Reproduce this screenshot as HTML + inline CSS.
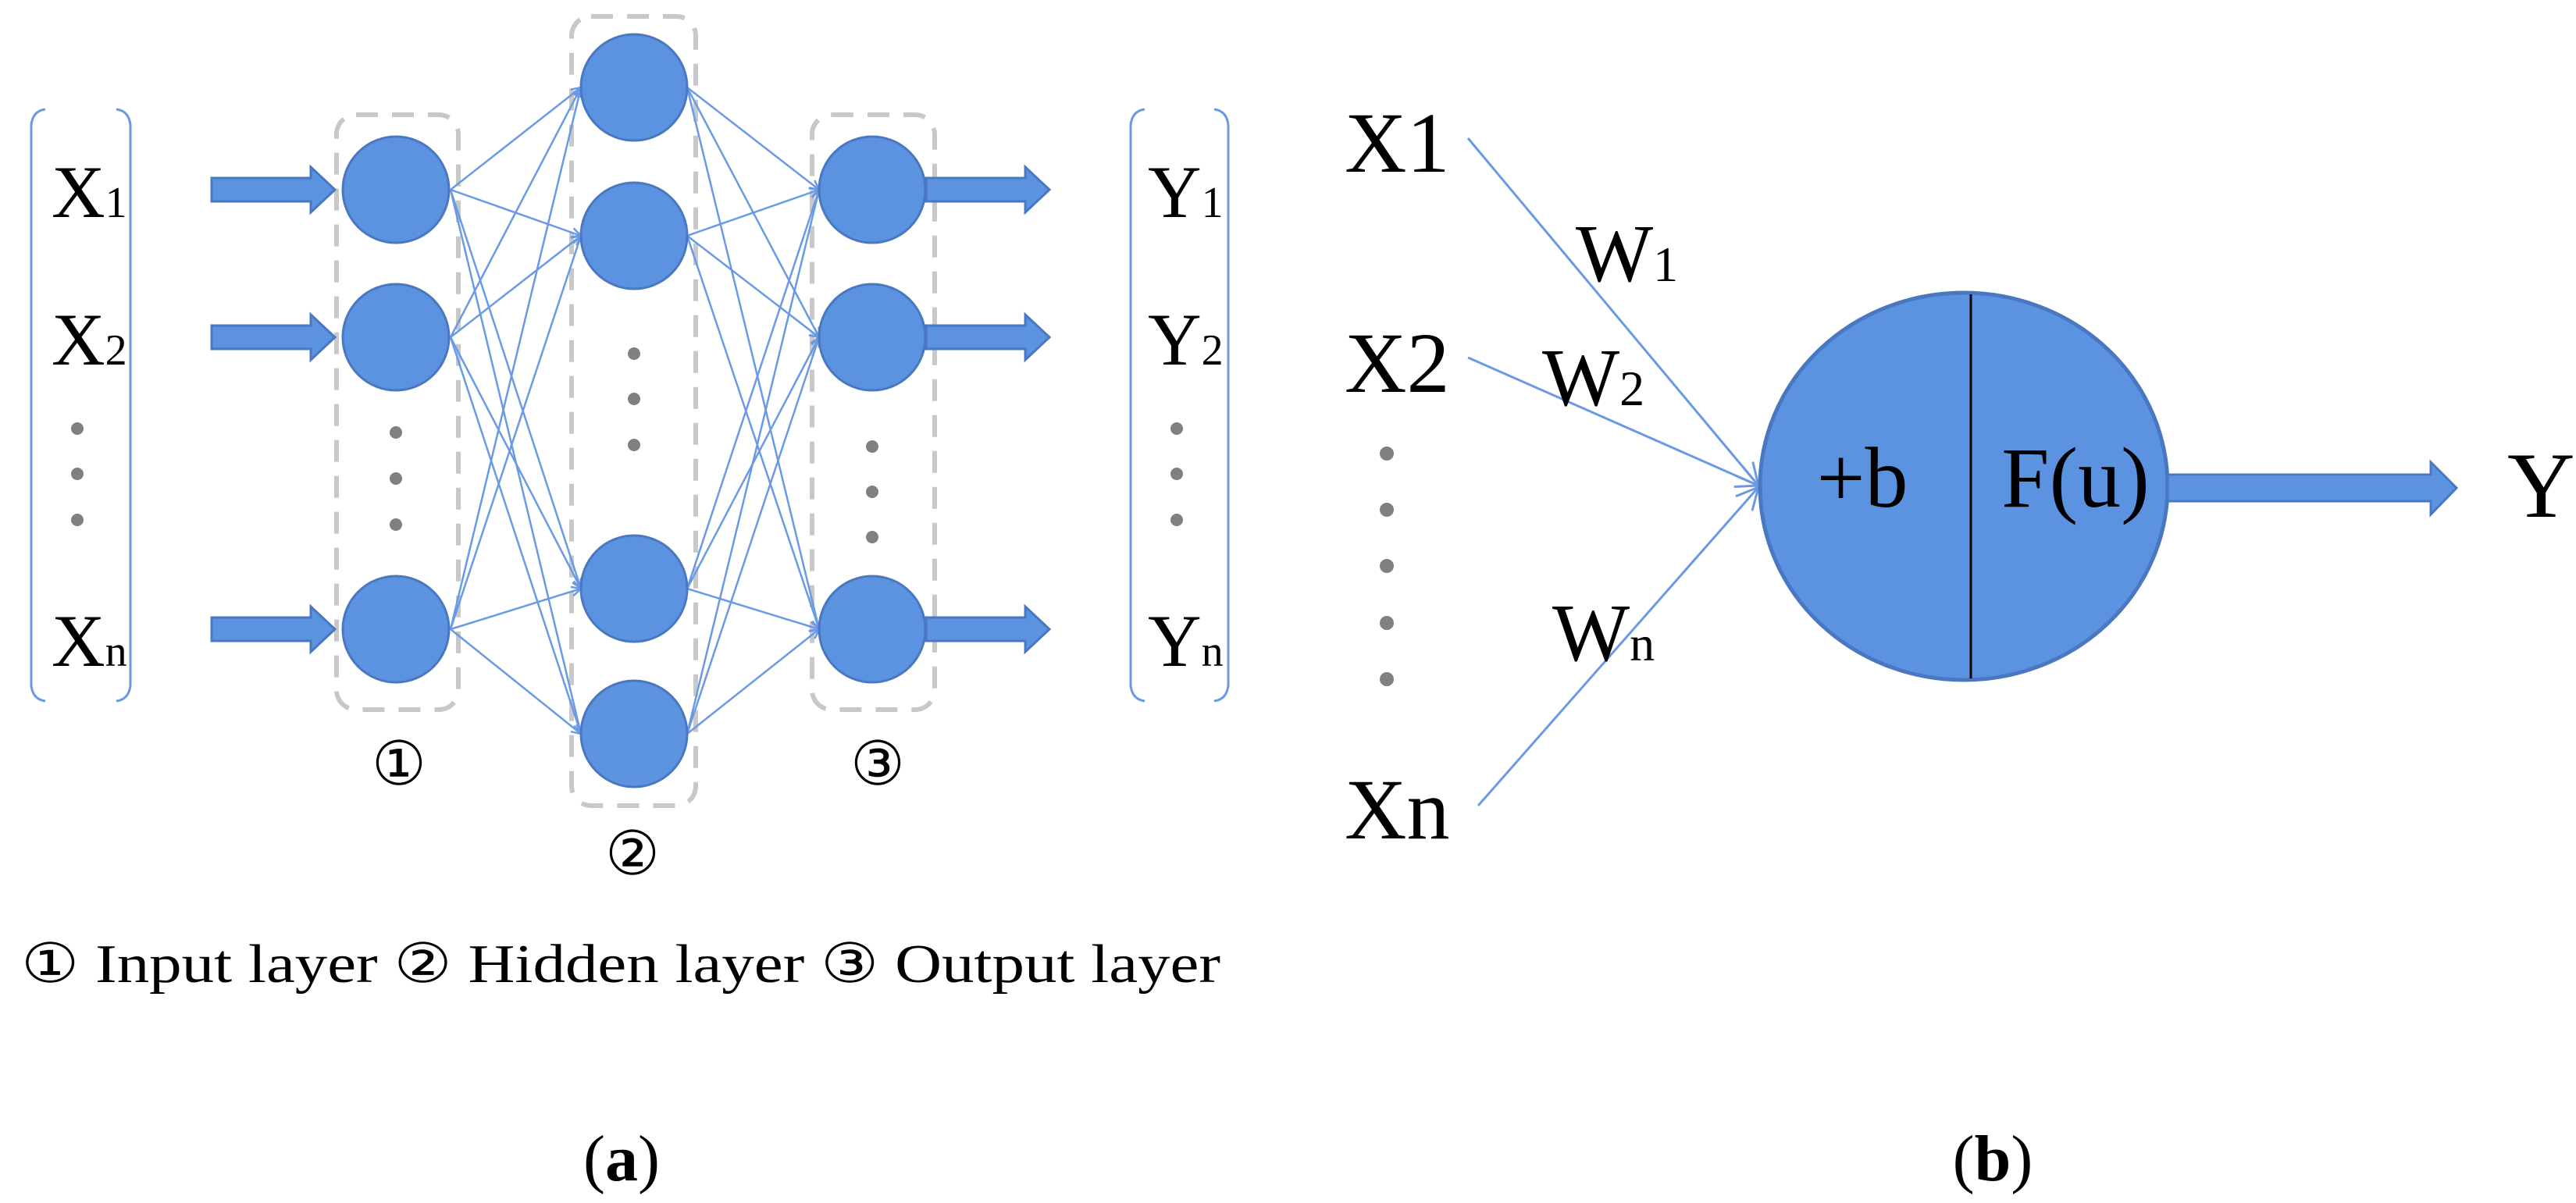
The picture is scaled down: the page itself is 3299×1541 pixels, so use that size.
<!DOCTYPE html>
<html><head><meta charset="utf-8"><style>
html,body{margin:0;padding:0;background:#fff;}
svg{display:block;}
text{font-family:"Liberation Serif",serif;fill:#000;}
</style></head><body>
<svg width="3299" height="1541" viewBox="0 0 3299 1541" xmlns="http://www.w3.org/2000/svg">
<defs>
<marker id="ah" markerWidth="16" markerHeight="16" refX="14" refY="8" orient="auto" markerUnits="userSpaceOnUse">
<path d="M2,2 L14,8 L2,14" fill="none" stroke="#6a9ae6" stroke-width="2.5"/>
</marker>
<marker id="ah2" markerWidth="40" markerHeight="40" refX="36" refY="20" orient="auto" markerUnits="userSpaceOnUse">
<path d="M8,6 L36,20 L8,34" fill="none" stroke="#6a9ae6" stroke-width="3"/>
</marker>
</defs>

<!-- left brackets -->
<path d="M58,140 Q42,142 40,160 L40,878 Q42,896 58,898" fill="none" stroke="#6a9ae6" stroke-width="3"/>
<path d="M149,140 Q165,142 167,160 L167,878 Q165,896 149,898" fill="none" stroke="#6a9ae6" stroke-width="3"/>
<path d="M1466,140 Q1450,142 1448,160 L1448,878 Q1450,896 1466,898" fill="none" stroke="#6a9ae6" stroke-width="3"/>
<path d="M1555,140 Q1571,142 1573,160 L1573,878 Q1571,896 1555,898" fill="none" stroke="#6a9ae6" stroke-width="3"/>

<!-- X labels -->
<text x="66" y="278" font-size="95">X<tspan font-size="56">1</tspan></text>
<text x="66" y="467" font-size="95">X<tspan font-size="56">2</tspan></text>
<text x="66" y="853" font-size="95">X<tspan font-size="56">n</tspan></text>
<circle cx="99" cy="549" r="8" fill="#808080"/>
<circle cx="99" cy="607" r="8" fill="#808080"/>
<circle cx="99" cy="666" r="8" fill="#808080"/>

<text x="1470" y="278" font-size="95">Y<tspan font-size="56">1</tspan></text>
<text x="1470" y="467" font-size="95">Y<tspan font-size="56">2</tspan></text>
<text x="1470" y="853" font-size="95">Y<tspan font-size="56">n</tspan></text>
<circle cx="1507" cy="549" r="8" fill="#808080"/>
<circle cx="1507" cy="607" r="8" fill="#808080"/>
<circle cx="1507" cy="666" r="8" fill="#808080"/>

<!-- dashed boxes -->
<rect x="431" y="147" width="156" height="762" rx="25" fill="none" stroke="#c8c8c8" stroke-width="6" stroke-dasharray="28,18"/>
<rect x="732" y="21" width="159" height="1011" rx="25" fill="none" stroke="#c8c8c8" stroke-width="6" stroke-dasharray="28,18"/>
<rect x="1040" y="147" width="157" height="762" rx="25" fill="none" stroke="#c8c8c8" stroke-width="6" stroke-dasharray="28,18"/>

<!-- connections -->
<g stroke="#6a9ae6" stroke-width="2.5" fill="none" marker-end="url(#ah)">
<line x1="577" y1="243" x2="744" y2="112"/>
<line x1="577" y1="243" x2="744" y2="302"/>
<line x1="577" y1="243" x2="744" y2="754"/>
<line x1="577" y1="243" x2="744" y2="940"/>
<line x1="577" y1="432" x2="744" y2="112"/>
<line x1="577" y1="432" x2="744" y2="302"/>
<line x1="577" y1="432" x2="744" y2="754"/>
<line x1="577" y1="432" x2="744" y2="940"/>
<line x1="577" y1="806" x2="744" y2="112"/>
<line x1="577" y1="806" x2="744" y2="302"/>
<line x1="577" y1="806" x2="744" y2="754"/>
<line x1="577" y1="806" x2="744" y2="940"/>
<line x1="880" y1="112" x2="1049" y2="243"/>
<line x1="880" y1="112" x2="1049" y2="432"/>
<line x1="880" y1="112" x2="1049" y2="806"/>
<line x1="880" y1="302" x2="1049" y2="243"/>
<line x1="880" y1="302" x2="1049" y2="432"/>
<line x1="880" y1="302" x2="1049" y2="806"/>
<line x1="880" y1="754" x2="1049" y2="243"/>
<line x1="880" y1="754" x2="1049" y2="432"/>
<line x1="880" y1="754" x2="1049" y2="806"/>
<line x1="880" y1="940" x2="1049" y2="243"/>
<line x1="880" y1="940" x2="1049" y2="432"/>
<line x1="880" y1="940" x2="1049" y2="806"/>
</g>

<!-- input arrows -->
<g fill="#5b93e1" stroke="#4a78c0" stroke-width="3">
<path d="M271,228 L398,228 L398,214 L429,243 L398,272 L398,258 L271,258 Z"/>
<path d="M271,417 L398,417 L398,403 L429,432 L398,461 L398,447 L271,447 Z"/>
<path d="M271,791 L398,791 L398,777 L429,806 L398,835 L398,821 L271,821 Z"/>
<path d="M1186,228 L1313,228 L1313,214 L1344,243 L1313,272 L1313,258 L1186,258 Z"/>
<path d="M1186,417 L1313,417 L1313,403 L1344,432 L1313,461 L1313,447 L1186,447 Z"/>
<path d="M1186,791 L1313,791 L1313,777 L1344,806 L1313,835 L1313,821 L1186,821 Z"/>
</g>

<!-- nodes -->
<g fill="#5b93e1" stroke="#4a78c0" stroke-width="3">
<ellipse cx="507" cy="243" rx="68" ry="68"/>
<ellipse cx="507" cy="432" rx="68" ry="68"/>
<ellipse cx="507" cy="806" rx="68" ry="68"/>
<ellipse cx="812" cy="112" rx="68" ry="68"/>
<ellipse cx="812" cy="302" rx="68" ry="68"/>
<ellipse cx="812" cy="754" rx="68" ry="68"/>
<ellipse cx="812" cy="940" rx="68" ry="68"/>
<ellipse cx="1117" cy="243" rx="68" ry="68"/>
<ellipse cx="1117" cy="432" rx="68" ry="68"/>
<ellipse cx="1117" cy="806" rx="68" ry="68"/>
</g>
<g fill="#808080">
<circle cx="507" cy="554" r="8"/><circle cx="507" cy="613" r="8"/><circle cx="507" cy="672" r="8"/>
<circle cx="812" cy="453" r="8"/><circle cx="812" cy="511" r="8"/><circle cx="812" cy="570" r="8"/>
<circle cx="1117" cy="572" r="8"/><circle cx="1117" cy="630" r="8"/><circle cx="1117" cy="688" r="8"/>
</g>

<text x="511" y="1005" font-size="78" text-anchor="middle" font-family="DejaVu Sans">①</text>
<text x="810" y="1120" font-size="78" text-anchor="middle" font-family="DejaVu Sans">②</text>
<text x="1124" y="1005" font-size="78" text-anchor="middle" font-family="DejaVu Sans">③</text>

<text x="27" y="1258" font-size="70" textLength="1536" lengthAdjust="spacingAndGlyphs"><tspan font-family="DejaVu Sans">①</tspan> Input layer <tspan font-family="DejaVu Sans">②</tspan> Hidden layer <tspan font-family="DejaVu Sans">③</tspan> Output layer</text>

<text x="796" y="1512" font-size="84" text-anchor="middle">(<tspan font-weight="bold">a</tspan>)</text>
<text x="2552" y="1512" font-size="84" text-anchor="middle">(<tspan font-weight="bold">b</tspan>)</text>

<!-- right panel -->
<text x="1722" y="220" font-size="110">X1</text>
<text x="1722" y="502" font-size="110">X2</text>
<text x="1722" y="1074" font-size="110">Xn</text>
<g fill="#808080">
<circle cx="1776" cy="581" r="9"/><circle cx="1776" cy="653" r="9"/><circle cx="1776" cy="725" r="9"/><circle cx="1776" cy="798" r="9"/><circle cx="1776" cy="870" r="9"/>
</g>
<g stroke="#6a9ae6" stroke-width="3" fill="none" marker-end="url(#ah2)">
<line x1="1880" y1="177" x2="2252" y2="622"/>
<line x1="1880" y1="458" x2="2252" y2="622"/>
<line x1="1893" y1="1032" x2="2252" y2="624"/>
</g>
<text x="2018" y="360" font-size="105">W<tspan font-size="64">1</tspan></text>
<text x="1975" y="519" font-size="105">W<tspan font-size="64">2</tspan></text>
<text x="1988" y="846" font-size="105">W<tspan font-size="64">n</tspan></text>

<ellipse cx="2515" cy="623" rx="261" ry="248" fill="#5b93e1" stroke="#4a78c0" stroke-width="5"/>
<line x1="2524" y1="377" x2="2524" y2="869" stroke="#000" stroke-width="3"/>
<text x="2385" y="649" font-size="110" text-anchor="middle">+b</text>
<text x="2658" y="649" font-size="110" text-anchor="middle">F(u)</text>

<path d="M2776,608 L3113,608 L3113,592 L3146,625 L3113,659 L3113,642 L2776,642 Z" fill="#5b93e1" stroke="#4a78c0" stroke-width="3"/>
<text x="3211" y="662" font-size="120">Y</text>
</svg>
</body></html>
